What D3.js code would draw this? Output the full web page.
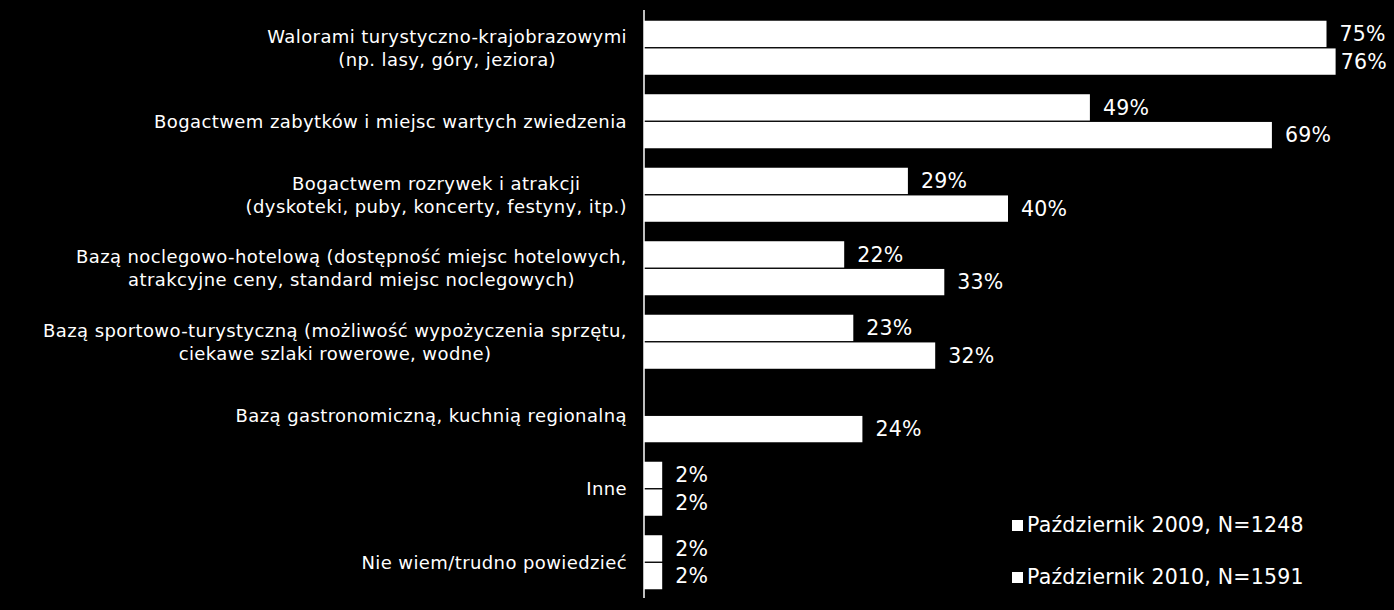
<!DOCTYPE html>
<html><head><meta charset="utf-8">
<script src="https://cdn.jsdelivr.net/npm/d3@7"></script>
<style>html,body{margin:0;padding:0;background:#000;}svg{display:block;}</style>
</head><body>
<svg id="chart" width="1394" height="610"></svg>
<script>
const categories = [
  ["Walorami turystyczno-krajobrazowymi", "(np. lasy, góry, jeziora)"],
  ["Bogactwem zabytków i miejsc wartych zwiedzenia"],
  ["Bogactwem rozrywek i atrakcji", "(dyskoteki, puby, koncerty, festyny, itp.)"],
  ["Bazą noclegowo-hotelową (dostępność miejsc hotelowych,", "atrakcyjne ceny, standard miejsc noclegowych)"],
  ["Bazą sportowo-turystyczną (możliwość wypożyczenia sprzętu,", "ciekawe szlaki rowerowe, wodne)"],
  ["Bazą gastronomiczną, kuchnią regionalną"],
  ["Inne"],
  ["Nie wiem/trudno powiedzieć"]
];
const seriesNames = ["Październik 2009, N=1248", "Październik 2010, N=1591"];
const values2009 = [75, 49, 29, 22, 23, null, 2, 2];
const values2010 = [76, 69, 40, 33, 32, 24, 2, 2];

const svg = d3.select("#chart");
const W = 1394, H = 610;
svg.append("rect").attr("width", W).attr("height", H).attr("fill", "#000");

const axisX = 644;
const x = d3.scaleLinear().domain([0, 80]).range([axisX, axisX + 728]);
const y0 = d3.scaleBand().domain(d3.range(categories.length)).range([11, 599]).paddingInner(0.265).paddingOuter(0.1325);
const y1 = d3.scaleBand().domain([0, 1]).range([0, y0.bandwidth()]).paddingInner(0.05);

const font = "'DejaVu Sans', Verdana, sans-serif";
const series = [values2009, values2010];

const g = svg.append("g");
categories.forEach((lab, i) => {
  series.forEach((vals, s) => {
    const v = vals[i];
    if (v == null) return;
    const yy = y0(i) + y1(s);
    g.append("rect").attr("x", x(0)).attr("y", yy)
      .attr("width", x(v) - x(0)).attr("height", y1.bandwidth()).attr("fill", "#fff");
    const t = g.append("text").attr("x", x(v) + 13).attr("y", yy + y1.bandwidth() / 2)
      .attr("dy", "0.36em").attr("fill", "#fff").attr("font-family", font)
      .attr("font-size", 20.5).attr("letter-spacing", 0.2).text(v + "%");
    const tw = t.node().getComputedTextLength();
    const maxRight = W - 7;
    if (x(v) + 13 + tw > maxRight) t.attr("x", maxRight - tw);
  });
});

// axis line
svg.append("line").attr("x1", axisX).attr("x2", axisX).attr("y1", 10).attr("y2", 598)
  .attr("stroke", "#fff").attr("stroke-width", 1.5);

// category labels
const labelRight = 627;
const lineH = 23;
categories.forEach((lines, i) => {
  const cy = y0(i) + y0.bandwidth() / 2;
  const t = svg.append("text").attr("fill", "#fff").attr("font-family", font)
    .attr("font-size", 18).attr("letter-spacing", 0.4).attr("text-anchor", "middle");
  const spans = lines.map((l, k) => t.append("tspan").text(l));
  const maxW = d3.max(spans, sp => sp.node().getComputedTextLength());
  const cx = labelRight - maxW / 2;
  spans.forEach((sp, k) => {
    sp.attr("x", cx).attr("y", cy + (k - (lines.length - 1) / 2) * lineH).attr("dy", "0.36em");
  });
});

// legend
const legendY = [525, 577];
seriesNames.forEach((n, s) => {
  svg.append("rect").attr("x", 1012).attr("y", legendY[s] - 5).attr("width", 11).attr("height", 11).attr("fill", "#fff");
  svg.append("text").attr("x", 1027).attr("y", legendY[s]).attr("dy", "0.36em")
    .attr("fill", "#fff").attr("font-family", font).attr("font-size", 20.5)
    .attr("letter-spacing", 0.2).text(n);
});
</script>
</body></html>
